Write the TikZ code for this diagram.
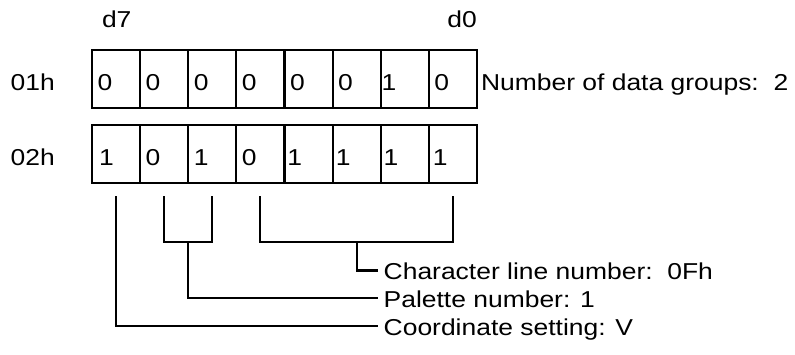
\documentclass[tikz,border=0pt]{standalone}
\usepackage{graphicx}
\usepackage{fontspec}
\setmainfont{Liberation Sans}
\usetikzlibrary{calc}
\newcommand{\tx}[1]{\scalebox{1.15}[1]{#1}}
\begin{document}
\begin{tikzpicture}[x=1pt,y=-1pt,
  cell/.style={draw, line width=2.1pt, minimum width=48.125pt, minimum height=58pt, inner sep=0pt, outer sep=0pt},
  lbl/.style={inner sep=0pt, outer sep=0pt, anchor=base west, font=\fontsize{23}{27}\selectfont},
  conn/.style={line width=2.1pt, line join=miter}]
\useasboundingbox (0,0) rectangle (795,354);
% cells
\foreach \i in {0,...,7} {
  \node[cell] (a\i) at (92+48.125*\i+24.0625, 79) {};
  \node[cell] (b\i) at (92+48.125*\i+24.0625, 154) {};
}
% digits row 1
\foreach \d/\o [count=\i from 0] in {0/5.6,0/5.6,0/5.6,0/5.6,0/5.6,0/5.6,1/0.8,0/5.6}
  \node[lbl] (ta\i) at ($(a\i.west)+(\o,11)$) {\tx{\d}};
% digits row 2
\foreach \d/\o [count=\i from 0] in {1/7.2,0/5.6,1/5.5,0/5.6,1/2.9,1/3.2,1/2.9,1/3.9}
  \node[lbl] (tb\i) at ($(b\i.west)+(\o,11)$) {\tx{\d}};
% labels
\node[lbl] (r1) at (10.6,90) {\tx{01h}};
\node[lbl] (r2) at (10.6,165) {\tx{02h}};
\node[lbl] (d7) at (102,27.7) {\tx{d7}};
\node[lbl] (d0) at (447.4,27.7) {\tx{d0}};
\node[lbl] (ng) at (481,90) {\tx{Number of data groups:~~2}};
\node[lbl] (cl) at (383.7,279.5) {\tx{Character line number:~~0Fh}};
\node[lbl] (pn) at (383.7,307.5) {\tx{Palette number: 1}};
\node[lbl] (cs) at (383.7,335.5) {\tx{Coordinate setting: V}};
% connector ends
\coordinate (eC) at (378,270.5);
\coordinate (eP) at (378,298.3);
\coordinate (eS) at (378,325.8);
% coordinate setting bracket
\draw[conn] ($(b0.south)+(0,13)$) |- (eS);
% palette bracket
\draw[conn] ($(b1.south)+(0,13)$) -- ($(b1.south)+(0,58.7)$) -| ($(b2.south)+(0,13)$);
\draw[conn] ($(b1.south)!0.5!(b2.south)+(0,58.7)$) |- (eP);
% character line bracket
\draw[conn] ($(b3.south)+(0,13)$) -- ($(b3.south)+(0,58.7)$) -| ($(b7.south)+(0,13)$);
\draw[conn] ($(b3.south)!0.5!(b7.south)+(0,58.7)$) |- (eC);
\end{tikzpicture}
\end{document}
